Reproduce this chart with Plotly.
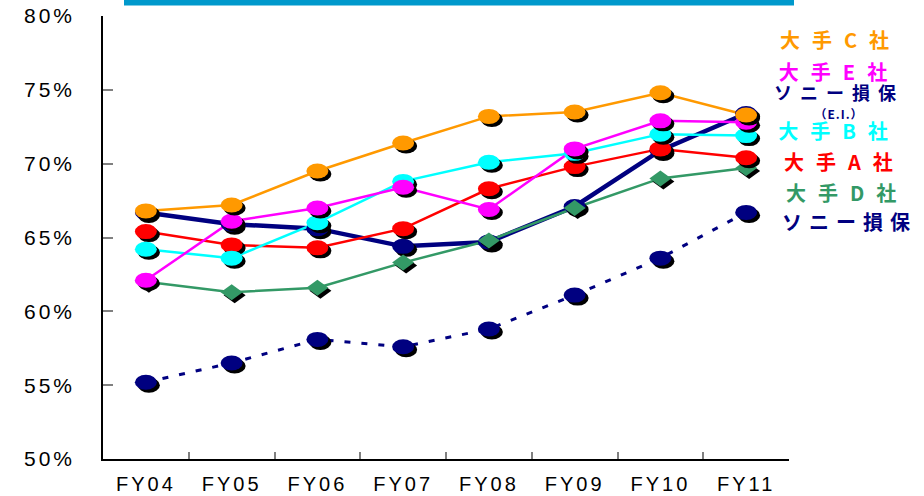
import plotly.graph_objects as go

# ---- data -------------------------------------------------------------
years = ["FY04", "FY05", "FY06", "FY07", "FY08", "FY09", "FY10", "FY11"]
y_ticks = [50, 55, 60, 65, 70, 75, 80]

sony_direct = [55.2, 56.5, 58.1, 57.6, 58.8, 61.1, 63.6, 66.7]   # ソニー損保
sony_ei = [66.7, 65.9, 65.6, 64.4, 64.7, 67.1, 70.9, 73.4]       # ソニー損保 (E.I.)
major_d = [62.0, 61.3, 61.6, 63.3, 64.8, 67.0, 69.0, 69.7]       # 大手D社
major_a = [65.4, 64.5, 64.3, 65.6, 68.3, 69.8, 71.0, 70.4]       # 大手A社
major_b = [64.2, 63.6, 66.0, 68.8, 70.1, 70.7, 72.0, 71.9]       # 大手B社
major_e = [62.1, 66.1, 67.0, 68.4, 66.9, 71.0, 72.9, 72.8]       # 大手E社
major_c = [66.8, 67.2, 69.5, 71.4, 73.2, 73.5, 74.8, 73.3]       # 大手C社

# ---- styling ------------------------------------------------------------
NAVY = "#000080"
C_COL, E_COL, B_COL = "#FF9900", "#FF00FF", "#00FFFF"
A_COL, D_COL = "#FF0000", "#339966"
series = [
    # values, colour, line width, dash, marker
    (sony_direct, NAVY, 3, "6px,11px", "ellipse"),
    (sony_ei, NAVY, 4.5, "solid", "ellipse"),
    (major_d, D_COL, 2.5, "solid", "diamond"),
    (major_a, A_COL, 2.5, "solid", "ellipse"),
    (major_b, B_COL, 2.5, "solid", "ellipse"),
    (major_e, E_COL, 2.5, "solid", "ellipse"),
    (major_c, C_COL, 2.5, "solid", "ellipse"),
]

W, H = 924, 496
ML, MR, MT, MB = 103, 135, 16, 37
PW, PH = W - ML - MR, H - MT - MB


def px(x):
    return (x - ML) / PW


def py(y):
    return (H - MB - y) / PH


def styled(text, color, size, ls):
    return (f'<span style="color:{color};font-size:{size}px;'
            f'letter-spacing:{ls}px">{text}</span>')


fig = go.Figure()
shapes = []

for vals, color, lw, dash, marker in series:
    fig.add_trace(go.Scatter(
        x=years, y=vals, mode="lines",
        line=dict(color=color, width=lw, dash=dash),
        hoverinfo="skip", showlegend=False,
    ))
    for cat, v in zip(years, vals):
        for fill, dx, dy in (("black", 3, -3), (color, 0, 0)):
            common = dict(
                xref="x", yref="y", xsizemode="pixel", ysizemode="pixel",
                xanchor=cat, yanchor=v, layer="above",
                fillcolor=fill, line=dict(width=0),
            )
            if marker == "ellipse":
                shapes.append(dict(type="circle",
                                   x0=-11 + dx, x1=11 + dx,
                                   y0=-7.5 + dy, y1=7.5 + dy, **common))
            else:
                path = (f"M {-11 + dx} {dy} L {dx} {8 + dy} "
                        f"L {11 + dx} {dy} L {dx} {-8 + dy} Z")
                shapes.append(dict(type="path", path=path, **common))

# banner strip along the top edge
shapes.append(dict(type="rect", xref="paper", yref="paper",
                   x0=px(124), x1=px(794), y0=py(5.5), y1=py(-2),
                   fillcolor="#0099CC", line=dict(width=0), layer="above"))

# ---- series labels at the right -----------------------------------------
JP = "Noto Sans CJK JP"
single_labels = [
    # text, colour, centre x, centre y, size, letter spacing
    ("大手C社", C_COL, 841, 39, 20, 12),
    ("大手A社", A_COL, 844, 161, 20, 12),
    ("大手D社", D_COL, 847, 192, 20, 12),
    ("ソニー損保", NAVY, 850, 222, 20, 7),
]
annotations = [
    dict(text=styled(t, c, fs, ls), x=px(x), y=py(y),
         xref="paper", yref="paper", xanchor="center", yanchor="middle",
         showarrow=False, borderpad=0,
         font=dict(family=JP, size=fs, color=c, weight="bold"))
    for t, c, x, y, fs, ls in single_labels
]

# tightly stacked block: 大手E社 / ソニー損保 (E.I.) / 大手B社
stack = "<br>".join([
    styled("大手E社", E_COL, 20, 12),
    styled("ソニー損保", NAVY, 18, 8),
    styled("（E.I.）", NAVY, 12, 1),
    styled("大手B社", B_COL, 20, 12),
])
annotations.append(dict(
    text=stack, x=px(839), y=py(101), xref="paper", yref="paper",
    xanchor="center", yanchor="middle", align="center", showarrow=False,
    borderpad=0, font=dict(family=JP, size=15, color=NAVY, weight="bold"),
))

tick_font = dict(family="Liberation Sans, Arial", size=20, color="black")

fig.update_layout(
    width=W, height=H,
    margin=dict(l=ML, r=MR, t=MT, b=MB, autoexpand=False),
    paper_bgcolor="white", plot_bgcolor="white",
    shapes=shapes, annotations=annotations,
    xaxis=dict(
        type="category", tickmode="array", tickvals=years,
        ticktext=[f'<span style="letter-spacing:3px">{y}</span>' for y in years],
        tickson="boundaries", ticks="inside", ticklen=7,
        tickcolor="#808080", tickwidth=1.5,
        showline=True, linecolor="black", linewidth=1.5,
        showgrid=False, tickfont=tick_font, ticklabelstandoff=6,
        range=[-0.5, 7.5], fixedrange=True, automargin=False,
    ),
    yaxis=dict(
        range=[50, 80], tickmode="array", tickvals=y_ticks,
        ticktext=[f'<span style="letter-spacing:3px">{t}%</span>'
                  for t in y_ticks],
        ticks="inside", ticklen=10, tickcolor="#808080", tickwidth=1.5,
        showline=True, linecolor="black", linewidth=1.5,
        showgrid=False, zeroline=False,
        tickfont=dict(tick_font, size=21),
        ticklabelstandoff=22, fixedrange=True, automargin=False,
    ),
)

fig.write_html("out.html", config={"displayModeBar": False})
